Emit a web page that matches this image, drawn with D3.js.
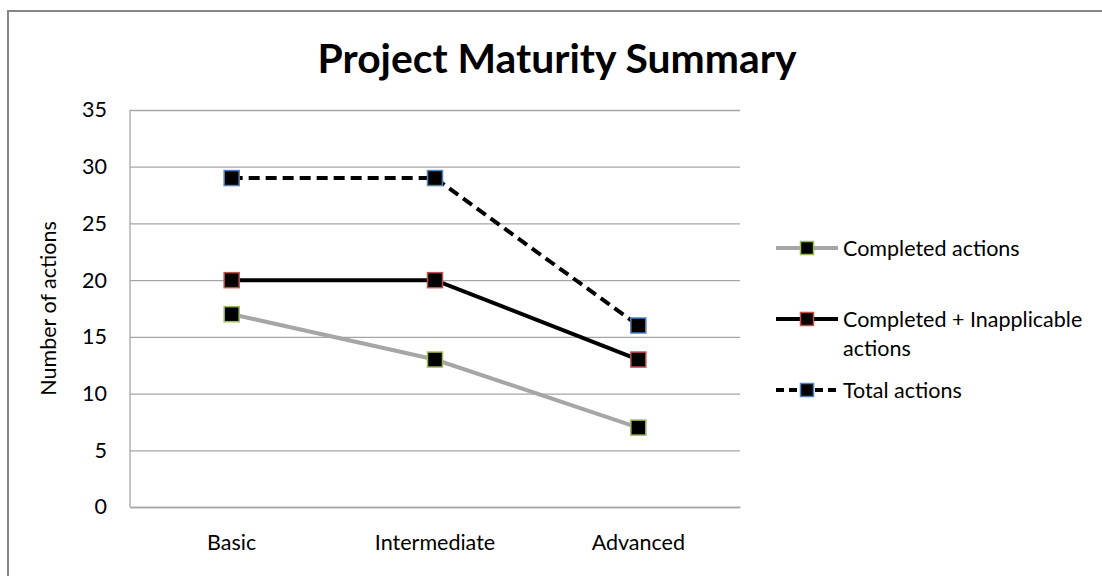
<!DOCTYPE html>
<html>
<head>
<meta charset="utf-8">
<script src="https://cdn.jsdelivr.net/npm/d3@7"></script>
<style>
  html, body { margin: 0; padding: 0; background: #fff; }
  svg { display: block; font-family: Lato, "Open Sans", sans-serif; }
</style>
</head>
<body>
<svg id="chart" width="1102" height="576"></svg>
<script>
// Maturity levels along the x axis
const levels = ["Basic", "Intermediate", "Advanced"];

// Action counts per level
const completed = [17, 13, 7];
const completedInapplicable = [20, 20, 13];
const total = [29, 29, 16];

const yTicks = [0, 5, 10, 15, 20, 25, 30, 35];

const seriesNames = ["Completed actions", "Completed + Inapplicable actions", "Total actions"];

const series = [
  { name: seriesNames[0], values: completed, stroke: "#a6a6a6", dash: null, marker: "#9bbb59" },
  { name: seriesNames[1], values: completedInapplicable, stroke: "#000", dash: null, marker: "#c0504d" },
  { name: seriesNames[2], values: total, stroke: "#000", dash: "11,6", marker: "#4f81bd" }
];

const FONT = "Lato, sans-serif";
const LABEL_SIZE = "21.5px";

const svg = d3.select("#chart");

// outer chart frame
svg.append("rect")
  .attr("x", 8).attr("y", 11)
  .attr("width", 1110).attr("height", 580)
  .attr("fill", "#fff")
  .attr("stroke", "#868686").attr("stroke-width", 2);

const plot = { left: 130, right: 740, top: 110, bottom: 507 };

const x = d3.scaleBand().domain(levels).range([plot.left, plot.right]);
const y = d3.scaleLinear().domain([0, 35]).range([plot.bottom, plot.top]);

// horizontal gridlines + value labels
const yAxis = d3.axisLeft(y).tickValues(yTicks).tickSize(-(plot.right - plot.left)).tickPadding(23);
const gy = svg.append("g").attr("transform", `translate(${plot.left},0)`).call(yAxis);
gy.select(".domain").remove();
gy.selectAll(".tick line").attr("stroke", "#a6a6a6").attr("stroke-width", 1.3);
gy.selectAll(".tick text").attr("fill", "#000").style("font-size", LABEL_SIZE).style("font-family", FONT);

// left axis line
svg.append("line")
  .attr("x1", plot.left).attr("x2", plot.left)
  .attr("y1", plot.top).attr("y2", plot.bottom)
  .attr("stroke", "#a6a6a6").attr("stroke-width", 1.3);

// category labels
const xAxis = d3.axisBottom(x).tickSize(0).tickPadding(28);
const gx = svg.append("g").attr("transform", `translate(0,${plot.bottom})`).call(xAxis);
gx.select(".domain").attr("stroke", "#a6a6a6").attr("stroke-width", 1.3);
gx.selectAll(".tick text").attr("fill", "#000").style("font-size", LABEL_SIZE).style("font-family", FONT);

// y axis title
svg.append("text")
  .attr("transform", `translate(56,${(plot.top + plot.bottom) / 2}) rotate(-90)`)
  .attr("text-anchor", "middle")
  .style("font-size", LABEL_SIZE)
  .text("Number of actions");

// chart title, sized to span its heading width
const title = svg.append("text")
  .attr("x", 557).attr("y", 73)
  .attr("text-anchor", "middle")
  .style("font-weight", "bold")
  .style("font-size", "34px")
  .text("Project Maturity Summary");
const tw = title.node().getComputedTextLength();
title.style("font-size", (34 * 479 / tw).toFixed(2) + "px");

const line = d3.line()
  .x((d, i) => x(levels[i]) + x.bandwidth() / 2)
  .y(d => y(d));

const markerSize = 15;

series.forEach(s => {
  svg.append("path")
    .datum(s.values)
    .attr("d", line)
    .attr("fill", "none")
    .attr("stroke", s.stroke)
    .attr("stroke-width", 4)
    .attr("stroke-dasharray", s.dash);
});

series.forEach(s => {
  svg.selectAll(null)
    .data(s.values)
    .enter().append("rect")
    .attr("x", (d, i) => x(levels[i]) + x.bandwidth() / 2 - markerSize / 2)
    .attr("y", d => y(d) - markerSize / 2)
    .attr("width", markerSize).attr("height", markerSize)
    .attr("fill", "#000")
    .attr("stroke", s.marker).attr("stroke-width", 1.5);
});

// legend
const legendRows = [
  { s: series[0], y: 248, lines: ["Completed actions"] },
  { s: series[1], y: 319, lines: ["Completed + Inapplicable", "actions"] },
  { s: series[2], y: 390, lines: ["Total actions"] }
];

const lg = svg.append("g");
legendRows.forEach(r => {
  lg.append("line")
    .attr("x1", 776).attr("x2", 838)
    .attr("y1", r.y).attr("y2", r.y)
    .attr("stroke", r.s.stroke).attr("stroke-width", 4)
    .attr("stroke-dasharray", r.s.dash ? "8,5" : null);
  lg.append("rect")
    .attr("x", 807 - 6.5).attr("y", r.y - 6.5)
    .attr("width", 13).attr("height", 13)
    .attr("fill", "#000")
    .attr("stroke", r.s.marker).attr("stroke-width", 1.5);
  const t = lg.append("text")
    .attr("x", 843).attr("y", r.y + 7.5)
    .style("font-size", LABEL_SIZE);
  r.lines.forEach((ln, i) => {
    t.append("tspan").attr("x", 843).attr("dy", i === 0 ? 0 : 29).text(ln);
  });
});
</script>
</body>
</html>
